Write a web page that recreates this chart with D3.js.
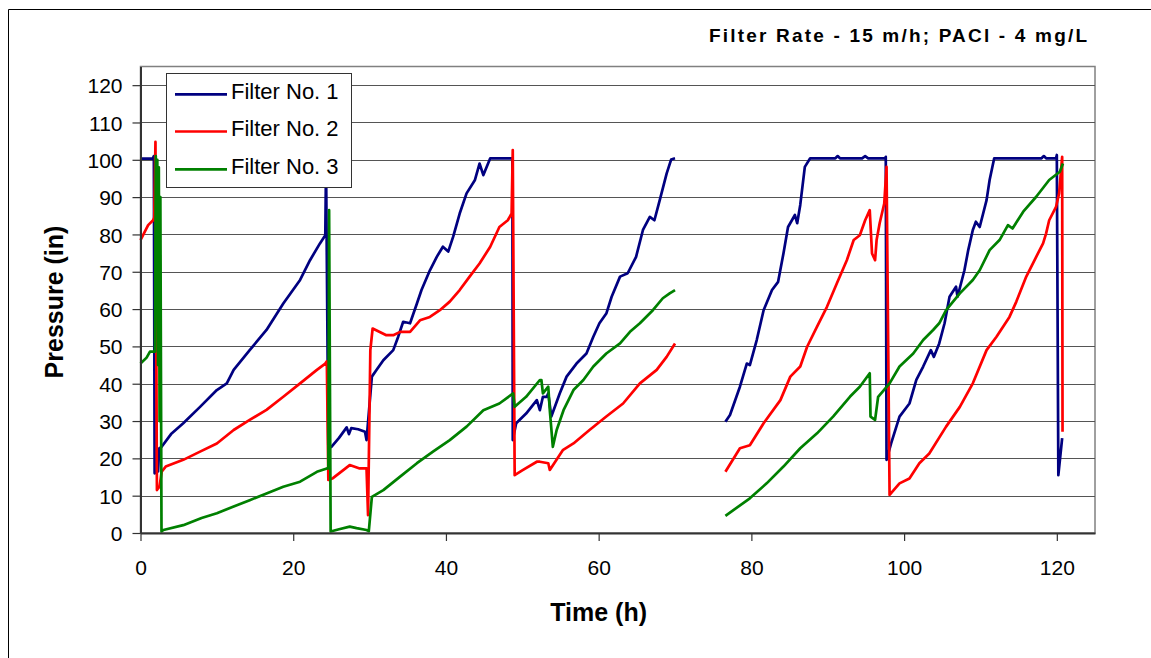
<!DOCTYPE html>
<html>
<head>
<meta charset="utf-8">
<script src="https://cdn.jsdelivr.net/npm/d3@7"></script>
<style>
  html, body { margin: 0; padding: 0; background: #fff; }
  svg { display: block; font-family: "Liberation Sans", Arial, sans-serif; }
</style>
</head>
<body>
<svg id="chart" width="1151" height="658"></svg>
<script>
// ---- Data (time in h, pressure in inches) ----
const title = "Filter Rate - 15 m/h; PACl - 4 mg/L";
const xLabel = "Time (h)";
const yLabel = "Pressure (in)";
const seriesNames = ["Filter No. 1", "Filter No. 2", "Filter No. 3"];
const seriesColors = ["#000080", "#ff0000", "#008000"];
const xTicks = [0, 20, 40, 60, 80, 100, 120];
const yTicks = [0, 10, 20, 30, 40, 50, 60, 70, 80, 90, 100, 110, 120];

const filter1 = [
  [0,100.3],[1.6,100.3],[1.75,101],[1.85,16],[2.3,16.5],[2.45,22.7],[2.77,23.1],[4,26.5],[5.6,29.4],
  [7.8,33.8],[10,38.3],[11.3,40.1],[12.2,43.7],[14.3,49],[16.5,54.4],[18.7,61.5],[20.9,67.8],
  [22.2,73.1],[23.5,77.6],[24.2,79.8],[24.3,99],[24.6,22.7],[25.0,23.1],[26,25.5],[27.0,28.3],
  [27.3,26.5],[27.6,28.1],[28.5,27.8],[29.4,27.1],[29.6,24.9],[30.3,41.9],[30.9,43.7],[31.8,46.3],
  [33.1,49],[33.75,52.6],[34.4,56.6],[35.3,56.2],[36.2,61.5],[36.8,65.1],[37.9,70.4],[38.8,74],
  [39.6,76.7],[40.3,75.4],[40.95,79.4],[41.8,85.6],[42.7,91],[43.8,94.6],[44.4,99],[44.9,95.9],
  [45.8,100.4],[48.7,100.4],[48.75,24.9],[49.2,29.4],[50.5,32],[51.9,35.6],[52.3,32.9],[52.7,36.5],
  [53.2,36.5],[53.4,37.4],[53.8,31.2],[54.9,37.4],[55.8,41.9],[57.1,45.4],[58.4,48.1],[59.3,52.6],
  [60.1,56.2],[61.0,58.8],[61.7,63.3],[62.8,68.7],[63.8,69.6],[64.9,74],[65.8,81.2],[66.7,84.7],
  [67.3,83.8],[68.0,89.2],[68.9,96.3],[69.5,100.1],[70.0,100.4],
  null,
  [76.6,29.8],[77.2,31.6],[78.5,39.2],[79.4,45.4],[79.8,45],[80.7,51.7],[81.6,59.7],[82.7,65.1],
  [83.5,67.3],[84.2,74.9],[84.8,82],[85.7,85.2],[86.0,83],[86.4,87.9],[87.0,98.1],[87.7,100.4],
  [91,100.4],[91.3,101],[91.6,100.4],[94.5,100.4],[94.9,101],[95.3,100.4],[97.5,100.4],[97.6,100.8],
  [97.7,19.6],[98.3,24],[99.4,31.2],[100.7,34.7],[101.6,41],[102.5,44.6],[103.5,49],[103.9,47.2],
  [104.6,50.8],[105.3,56.2],[105.95,63.3],[106.8,66],[107.0,63.3],[107.9,70.4],[108.4,75.8],
  [109.0,81.2],[109.4,83.4],[109.9,82],[110.8,89.2],[111.2,94.6],[111.8,100.4],[118,100.4],
  [118.3,101],[118.6,100.4],[119.9,100.4],[120.0,101.3],[120.2,15.5],[120.7,25.4]
];

const filter2 = [
  [0,78.5],[0.5,80.5],[1,82.5],[1.65,83.8],[1.8,84.5],[1.96,104.8],[2.15,11.5],[2.5,12.5],[2.77,16.4],
  [3.3,17.8],[5.6,19.6],[7.8,21.8],[10,24],[12.2,27.6],[14.3,30.3],[16.5,33],[18.7,36.5],[20.9,40.1],
  [23.1,43.7],[24.2,45.4],[24.4,46],[24.6,14.2],[25.2,14.7],[27.4,18.2],[28.7,17.3],[29.6,17.3],
  [29.8,4.8],[30.1,49],[30.4,54.8],[32.2,53],[33.1,53],[34.0,53.9],[35.3,53.9],[36.6,57],[37.9,57.9],
  [39.2,59.7],[40.5,62],[41.8,65.1],[43.1,68.7],[44.4,72.2],[45.8,76.7],[47.0,82],[48.1,83.8],
  [48.6,85.6],[48.75,102.6],[49.0,15.5],[50.1,16.9],[51.9,19.1],[52.3,19.1],[53.4,18.7],[53.6,16.9],
  [55.3,22.2],[56.7,24],[58.8,27.6],[61.0,31.2],[63.2,34.7],[65.4,40.1],[67.6,43.7],[68.9,47.2],
  [70.0,50.8],
  null,
  [76.6,16.4],[78.5,22.7],[79.8,23.5],[81.6,29.4],[83.8,35.6],[85.1,41.9],[86.4,44.6],[87.3,49.9],
  [88.6,55.3],[89.9,60.6],[91.2,66.9],[92.5,73.1],[93.4,78.5],[94.2,79.8],[94.9,83.8],[95.5,86.5],
  [95.8,74.9],[96.2,73.1],[96.4,78.5],[96.8,83],[97.4,88.3],[97.7,98.1],[98.1,10.2],[99.4,13.3],
  [100.7,14.6],[102.0,18.7],[103.3,21.3],[105.5,28.5],[107.3,33.8],[109.0,40.1],[110.8,49],
  [112.1,52.6],[113.8,57.9],[114.7,62],[116.0,68.7],[117.3,74],[118.2,77.6],[118.6,80.3],[119.0,83.8],
  [119.9,87.4],[120.3,91],[120.7,100.8],[120.75,27.1]
];

const filter3 = [
  [0,45.4],[0.8,47],[1.24,48.6],[1.9,48.6],[2.0,101],[2.1,60],[2.2,100],[2.3,45],[2.4,98],[2.5,30],
  [2.6,90],[2.75,0.4],[3,0.8],[5.6,2.1],[8,4],[10,5.3],[12.2,7.1],[14.3,8.8],[16.5,10.6],[18.7,12.4],
  [20.9,13.75],[23.1,16.4],[24.4,17.3],[24.6,17.3],[24.7,86.5],[24.9,0.4],[26,1],[27.4,1.7],[28.3,1.3],
  [29.6,0.8],[29.9,0.5],[30.3,9.7],[31.8,11.5],[34.0,15.1],[36.2,18.7],[38.3,21.8],[40.5,24.9],
  [42.7,28.5],[44.9,32.9],[47.0,34.7],[48.8,37.4],[49.0,33.8],[50.5,36.5],[52.3,41],[52.5,41],
  [52.7,37.4],[53.4,39.2],[53.6,32.9],[54.0,23.1],[54.5,27.6],[55.4,32.9],[56.7,38.3],[58.0,41],
  [59.3,44.6],[61.0,48.1],[62.8,50.8],[64.1,53.9],[65.4,56.2],[67.1,59.7],[68.4,62.9],[69.3,64.2],
  [70.0,65.1],
  null,
  [76.6,4.6],[79.8,9.3],[82.0,13.3],[84.2,17.8],[86.4,22.7],[88.6,26.7],[90.7,31.2],[92.9,36.5],
  [94.2,39.2],[95.5,42.8],[95.6,31.2],[96.2,30.3],[96.6,36.5],[98.1,40.1],[99.4,44.6],[101.2,48.1],
  [102.5,51.7],[103.8,54.4],[104.6,56.2],[105.5,59.7],[107.3,64.2],[109.0,67.8],[109.9,70.4],
  [111.2,75.8],[112.5,78.5],[113.6,82.5],[114.2,81.6],[115.6,86.1],[117.3,90.1],[119.0,94.6],
  [120.4,96.8],[120.8,99]
];

const allSeries = [filter1, filter2, filter3];

// ---- Layout ----
const svg = d3.select("#chart");
const plot = { left: 140.5, top: 66.5, right: 1095, bottom: 533 };

const x = d3.scaleLinear().domain([0, 125]).range([plot.left, plot.right]);
const y = d3.scaleLinear().domain([0, 125]).range([plot.bottom, plot.top]);

// outer frame (cut off at right/bottom)
svg.append("path")
  .attr("d", "M8.5,660 V9.5 H1152")
  .attr("fill", "none").attr("stroke", "#000").attr("stroke-width", 1);

// plot background + gray frame
svg.append("rect")
  .attr("x", plot.left).attr("y", plot.top)
  .attr("width", plot.right - plot.left).attr("height", plot.bottom - plot.top)
  .attr("fill", "#fff").attr("stroke", "#808080").attr("stroke-width", 1.5);

// gridlines
svg.append("g").selectAll("line").data(yTicks.filter(d => d > 0)).join("line")
  .attr("x1", plot.left).attr("x2", plot.right)
  .attr("y1", d => Math.round(y(d)) + 0.5).attr("y2", d => Math.round(y(d)) + 0.5)
  .attr("stroke", "#555").attr("stroke-width", 1.2);

// series
const line = d3.line().defined(d => d !== null).x(d => x(d[0])).y(d => y(d[1]));
svg.append("g").selectAll("path").data(allSeries).join("path")
  .attr("d", line)
  .attr("fill", "none")
  .attr("stroke", (d, i) => seriesColors[i])
  .attr("stroke-width", 2.7)
  .attr("stroke-linejoin", "round");

// axes
const yAxis = svg.append("g").attr("transform", `translate(${plot.left},0)`)
  .call(d3.axisLeft(y).tickValues(yTicks).tickSize(8).tickPadding(10).tickSizeOuter(0));
const xAxis = svg.append("g").attr("transform", `translate(0,${plot.bottom})`)
  .call(d3.axisBottom(x).tickValues(xTicks).tickSize(8).tickPadding(19).tickSizeOuter(0));

[yAxis, xAxis].forEach(g => {
  g.select(".domain").attr("stroke", "#333").attr("stroke-width", 2);
  g.selectAll(".tick line").attr("stroke", "#333").attr("stroke-width", 1.2);
  g.selectAll(".tick text").attr("fill", "#000")
    .style("font-family", '"Liberation Sans", Arial, sans-serif').style("font-size", "21px");
});
yAxis.selectAll(".tick text").attr("dy", "0.36em");

// axis titles
svg.append("text")
  .attr("x", (x(0) + x(120)) / 2).attr("y", 621)
  .attr("text-anchor", "middle")
  .style("font-weight", "bold").style("font-size", "25px")
  .text(xLabel);

svg.append("text")
  .attr("transform", "translate(63,302) rotate(-90)")
  .attr("text-anchor", "middle")
  .style("font-weight", "bold").style("font-size", "25px")
  .text(yLabel);

// chart title
svg.append("text")
  .attr("x", 709).attr("y", 42)
  .attr("textLength", 378).attr("lengthAdjust", "spacing")
  .style("font-weight", "bold").style("font-size", "19px")
  .text(title);

// legend
const legend = svg.append("g");
legend.append("rect")
  .attr("x", 166.5).attr("y", 73.5).attr("width", 185).attr("height", 114)
  .attr("fill", "#fff").attr("stroke", "#333").attr("stroke-width", 1);
const legendY = [94.3, 131.5, 169.3];
seriesNames.forEach((name, i) => {
  legend.append("line")
    .attr("x1", 175).attr("x2", 227).attr("y1", legendY[i]).attr("y2", legendY[i])
    .attr("stroke", seriesColors[i]).attr("stroke-width", 2.7);
  legend.append("text")
    .attr("x", 231).attr("y", legendY[i] + 4.5)
    .style("font-size", "22px")
    .text(name);
});
</script>
</body>
</html>
